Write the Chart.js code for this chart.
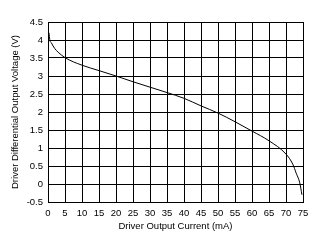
<!DOCTYPE html>
<html>
<head>
<meta charset="utf-8">
<script src="https://cdn.jsdelivr.net/npm/chart.js@4/dist/chart.umd.min.js"></script>
<style>
  html, body { margin: 0; padding: 0; background: #fff; }
  #wrap { width: 323px; height: 243px; }
</style>
</head>
<body>
<div id="wrap"><canvas id="chart" width="323" height="243"></canvas></div>
<script>
// values
const currentMA = [0.3, 0.5, 1, 2, 3, 5, 10, 15, 20, 25, 30, 35, 40, 45, 50, 55, 60, 65, 70, 72, 73, 74, 74.7];
const voltageV  = [4.2, 4.02, 3.92, 3.76, 3.66, 3.51, 3.3, 3.15, 3.0, 2.84, 2.69, 2.54, 2.38, 2.17, 1.97, 1.73, 1.47, 1.2, 0.83, 0.55, 0.3, 0.05, -0.3];

const xTitle = 'Driver Output Current (mA)';
const yTitle = 'Driver Differential Output Voltage (V)';

const font = { family: 'Liberation Sans, Arial, sans-serif', size: 9.5 };
const fmt = (v) => String(Math.round(v * 10) / 10);

new Chart(document.getElementById('chart'), {
    type: 'line',
    data: {
        datasets: [{
            data: currentMA.map((x, i) => ({ x: x, y: voltageV[i] })),
            borderColor: '#000',
            borderWidth: 1,
            pointRadius: 0,
            cubicInterpolationMode: 'monotone',
            fill: false
        }]
    },
    options: {
        responsive: false,
        animation: false,
        layout: { padding: { left: 10, top: 22, right: 20, bottom: 11 } },
        plugins: { legend: { display: false }, tooltip: { enabled: false } },
        scales: {
            x: {
                type: 'linear',
                min: 0, max: 75,
                grid: { color: '#000', lineWidth: 1, drawTicks: false },
                border: { color: '#000', width: 1 },
                ticks: { stepSize: 5, color: '#000', font: font, padding: 6, maxRotation: 0, callback: fmt },
                title: { display: true, text: xTitle, color: '#000', font: font, padding: 0 },
                afterFit: (s) => { s.height = 30; }
            },
            y: {
                min: -0.5, max: 4.5,
                grid: { color: '#000', lineWidth: 1, drawTicks: false },
                border: { color: '#000', width: 1 },
                ticks: { stepSize: 0.5, color: '#000', font: font, padding: 5, callback: fmt },
                title: { display: true, text: yTitle, color: '#000', font: font, padding: 0 },
                afterFit: (s) => { s.width = 38; }
            }
        }
    }
});
</script>
</body>
</html>
